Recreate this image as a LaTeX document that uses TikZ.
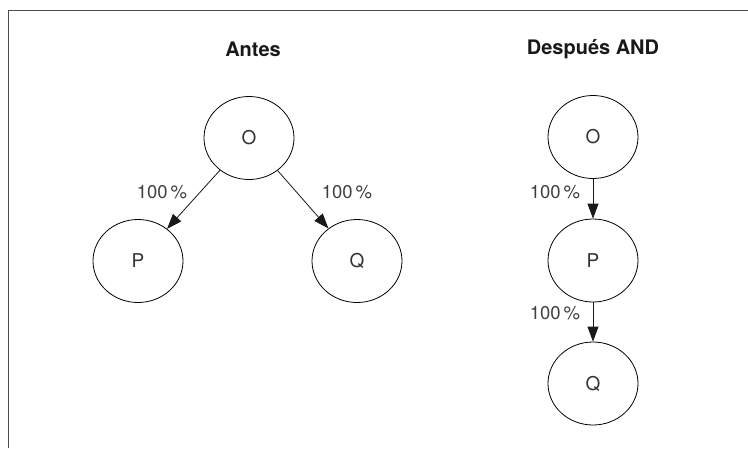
\documentclass[tikz,border=0pt]{standalone}
\usepackage{fontspec}
\setmainfont{TeX Gyre Heros}
\usetikzlibrary{arrows.meta,shapes.geometric}

\begin{document}
\begin{tikzpicture}[x=1pt,y=-1pt]
        \tikzstyle{state}=[draw=black,line width=0.8pt,ellipse,minimum width=90pt,minimum height=83pt,inner sep=0pt,font=\fontsize{19}{19}\selectfont,text=black!80]
        \tikzstyle{pct}=[inner sep=0pt,font=\fontsize{18.5}{18.5}\selectfont,text=black!75]
        \tikzstyle{heading}=[inner sep=0pt,font=\fontsize{20}{20}\selectfont\bfseries,text=black!90]
        \tikzstyle{edge}=[draw=black!90,line width=0.8pt,-{Triangle[length=15pt,width=11pt]}]
        \useasboundingbox (0,0) rectangle (748,448);
        % frame
        \draw [black!70,line width=1.8pt] (8.5,448) -- (8.5,10.5) -- (748,10.5);
        % antes
        \node [heading] (antes) at (253,49) {Antes};
        \node [state] (o1) at (249,138) {O};
        \node [state] (p1) at (138,261) {P};
        \node [state] (q1) at (357,261) {Q};
        \draw [edge] (o1) -- (p1);
        \draw [edge] (o1) -- (q1);
        \node [pct] (l1) at (162,192) {100\,\%};
        \node [pct] (l2) at (347,192) {100\,\%};
        % despues
        \node [heading] (despues) at (593,49) {Después AND};
        \node [state] (o2) at (593,137) {O};
        \node [state] (p2) at (593,260.5) {P};
        \node [state] (q2) at (593,383.5) {Q};
        \draw [edge] (o2) -- (p2);
        \draw [edge] (p2) -- (q2);
        \node [pct] (l3) at (555,192) {100\,\%};
        \node [pct] (l4) at (555,313) {100\,\%};
\end{tikzpicture}
\end{document}
